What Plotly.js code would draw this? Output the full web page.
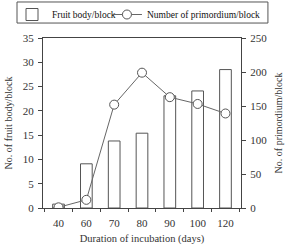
<!DOCTYPE html>
<html><head><meta charset="utf-8">
<script src="https://cdn.plot.ly/plotly-3.0.1.min.js"></script>
<style>html,body{margin:0;padding:0;background:#fff}#c{width:293px;height:250px}</style>
</head><body><div id="c"></div>
<script>
const days = ["40", "60", "70", "80", "90", "100", "120"];
const fruitBody = [0.8, 9.1, 13.8, 15.4, 23.1, 24.1, 28.5];
const primordium = [1, 12, 152, 199, 163, 153, 139];
const leftTicks = [0, 5, 10, 15, 20, 25, 30, 35];
const rightTicks = [0, 50, 100, 150, 200, 250];

const ink = '#444';
const font = {family: '"Liberation Serif", "Times New Roman", serif', size: 11, color: '#333'};
const legFont = {family: font.family, size: 9.5, color: '#111'};

Plotly.newPlot('c', [
  {type: 'bar', x: days, y: fruitBody, name: 'Fruit body/block', width: 0.42,
   legend: 'legend',
   marker: {color: '#fff', line: {color: '#555', width: 1}}},
  {type: 'scatter', mode: 'lines+markers', x: days, y: primordium, yaxis: 'y2',
   name: 'Number of primordium/block', legend: 'legend2',
   line: {color: '#666', width: 1},
   marker: {symbol: 'circle', size: 9, color: '#fff', line: {color: '#555', width: 1}}}
], {
  width: 293, height: 250,
  margin: {l: 43, r: 52, t: 38, b: 42},
  paper_bgcolor: '#fff', plot_bgcolor: '#fff',
  font: font,
  showlegend: true,
  legend: {orientation: 'h', xref: 'container', yref: 'container', x: 0.041, xanchor: 'left',
           y: 1, yanchor: 'top',
           bgcolor: 'rgba(0,0,0,0)', borderwidth: 0, font: legFont, itemwidth: 30},
  legend2: {orientation: 'h', xref: 'container', yref: 'container', x: 0.365, xanchor: 'left',
           y: 1, yanchor: 'top',
           bgcolor: 'rgba(0,0,0,0)', borderwidth: 0, font: legFont, itemwidth: 30},
  shapes: [{type: 'rect', xref: 'paper', yref: 'paper', x0: -0.1313, x1: 1.136, y0: 1.088, y1: 1.2118,
            line: {color: '#555', width: 1}, fillcolor: 'rgba(0,0,0,0)', layer: 'above'}],
  xaxis: {type: 'category', automargin: false, showline: true, linecolor: ink, linewidth: 1, mirror: true,
          ticks: 'outside', tickson: 'boundaries', ticklen: 3, tickcolor: ink,
          showgrid: false, zeroline: false, tickfont: {size: 11}, ticklabelstandoff: 5,
          title: {text: 'Duration of incubation (days)', font: {size: 10.5}, standoff: 6}},
  yaxis: {range: [0, 35], tickvals: leftTicks, automargin: false, showline: true, linecolor: ink, linewidth: 1,
          ticks: 'outside', ticklen: 4, tickcolor: ink, showgrid: false, zeroline: false,
          tickfont: {size: 11}, ticklabelstandoff: 2,
          title: {text: 'No. of fruit body/block', font: {size: 10}, standoff: 8}},
  yaxis2: {range: [0, 250], tickvals: rightTicks, automargin: false, overlaying: 'y', side: 'right',
           showline: true, linecolor: ink, linewidth: 1,
           ticks: 'outside', ticklen: 4, tickcolor: ink, showgrid: false, zeroline: false,
           tickfont: {size: 11}, ticklabelstandoff: 2,
           title: {text: 'No. of primordium/block', font: {size: 10}, standoff: 8}},
  bargap: 0.58
}, {displayModeBar: false, staticPlot: true});
</script></body></html>
